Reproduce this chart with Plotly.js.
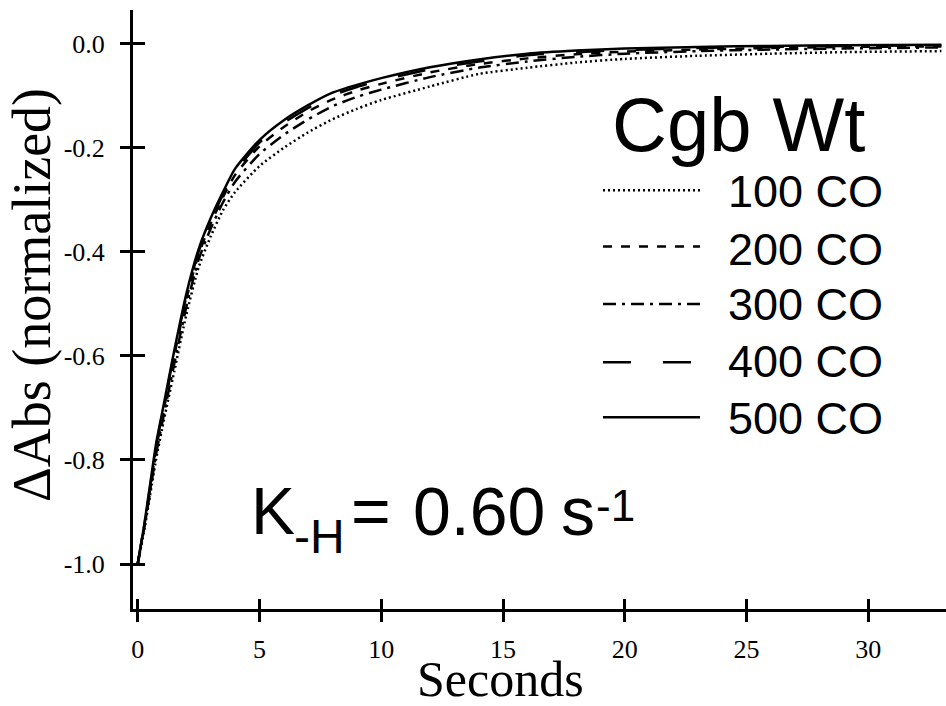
<!DOCTYPE html>
<html>
<head>
<meta charset="utf-8">
<script src="https://cdn.plot.ly/plotly-3.0.1.min.js"></script>
<style>html,body{margin:0;padding:0;background:#fff;}#chart{width:946px;height:706px;}</style>
</head>
<body>
<div id="chart"></div>
<script>
// time grid (seconds)
const time = [0, 0.25, 0.5, 0.75, 1, 1.5, 2, 2.5, 3, 3.5, 4, 5, 6, 7, 8, 9, 10, 12, 14, 16, 18, 20, 23, 26, 29, 33];
// series (normalized ΔAbs)
const co100 = [-1.00, -0.94, -0.87, -0.80, -0.74, -0.63, -0.52, -0.43, -0.37, -0.32, -0.285, -0.235, -0.20, -0.17, -0.145, -0.125, -0.108, -0.082, -0.058, -0.046, -0.036, -0.029, -0.023, -0.019, -0.016, -0.014];
const co200 = [-1.00, -0.932, -0.86, -0.78, -0.72, -0.60, -0.49, -0.405, -0.345, -0.295, -0.252, -0.197, -0.16, -0.13, -0.107, -0.09, -0.077, -0.055, -0.039, -0.028, -0.020, -0.015, -0.011, -0.008, -0.006, -0.005];
const co300 = [-1.00, -0.935, -0.865, -0.79, -0.73, -0.615, -0.505, -0.415, -0.355, -0.305, -0.265, -0.212, -0.175, -0.145, -0.12, -0.102, -0.088, -0.064, -0.046, -0.034, -0.025, -0.019, -0.014, -0.011, -0.009, -0.007];
const co400 = [-1.00, -0.93, -0.855, -0.775, -0.715, -0.595, -0.485, -0.40, -0.34, -0.29, -0.246, -0.19, -0.152, -0.123, -0.099, -0.083, -0.070, -0.049, -0.034, -0.022, -0.016, -0.012, -0.008, -0.006, -0.004, -0.003];
const co500 = [-1.00, -0.93, -0.85, -0.77, -0.71, -0.59, -0.48, -0.395, -0.335, -0.285, -0.24, -0.185, -0.147, -0.118, -0.094, -0.079, -0.066, -0.045, -0.030, -0.019, -0.013, -0.009, -0.006, -0.004, -0.003, -0.002];
const seriesNames = ['100 CO', '200 CO', '300 CO', '400 CO', '500 CO'];
const xTickVals = [0, 5, 10, 15, 20, 25, 30];
const xTickText = ['0', '5', '10', '15', '20', '25', '30'];
const yTickVals = [0, -0.2, -0.4, -0.6, -0.8, -1.0];
const yTickText = ['0.0', '-0.2', '-0.4', '-0.6', '-0.8', '-1.0'];

const seriesData = [co100, co200, co300, co400, co500];
const dashes = ['2px,3px', '9px,9px', '13px,6px,3px,6px', '28px,32px', 'solid'];
const legendY = [0.699, 0.605, 0.509, 0.412, 0.320];
const legendTextY = [0.6962, 0.6010, 0.5090, 0.4140, 0.3180];

const traces = seriesData.map((ys, i) => ({
  x: time, y: ys, type: 'scatter', mode: 'lines', name: seriesNames[i],
  line: {color: '#000', width: 2.5, dash: dashes[i], shape: 'spline', smoothing: 0.6},
  showlegend: false, hoverinfo: 'skip'
}));
// empty trace to carry the inner-tick overlay axes
traces.push({x: [], y: [], xaxis: 'x2', yaxis: 'y2', type: 'scatter', mode: 'lines', showlegend: false});

const serif = 'Liberation Serif, Times New Roman, serif';
const sans = 'Liberation Sans, Arial, sans-serif';
const xr = [-0.193, 33.19];
const yr = [-1.0865, 0.065];
const px = v => (v - 133) / 813;
const py = v => (609 - v) / 599;
const note = (text, x, y, size, family, extra) => Object.assign({
  text: text, xref: 'paper', yref: 'paper', x: px(x), y: py(y), xanchor: 'left', yanchor: 'middle',
  showarrow: false, font: {family: family, size: size, color: '#000'}
}, extra || {});

const annotations = [
  note('Seconds', 500, 679, 50, serif, {xanchor: 'center'}),
  note('ΔAbs (normalized)', 32, 295, 54, serif, {xanchor: 'center', textangle: -90}),
  note('Cgb Wt', 738, 124, 76, sans, {xanchor: 'center'}),
  note('K', 249, 511, 66, sans),
  note('-H', 292, 536, 48, sans),
  note('=', 349, 511, 68, sans),
  note('0.60', 411, 511, 68, sans),
  note('s', 559, 511, 68, sans),
  note('-1', 594, 505, 44, sans)
];
seriesNames.forEach((n, i) => annotations.push({
  text: n, xref: 'paper', yref: 'paper', x: px(726), y: legendTextY[i], xanchor: 'left', yanchor: 'middle', showarrow: false,
  font: {family: sans, size: 45, color: '#000'}
}));

const shapes = seriesNames.map((n, i) => ({
  type: 'line', xref: 'paper', yref: 'paper', x0: px(603), x1: px(700), y0: legendY[i], y1: legendY[i],
  line: {color: '#000', width: 2.5, dash: dashes[i]}
}));

const axisCommon = {showgrid: false, zeroline: false, tickcolor: '#000', tickwidth: 3, ticklen: 10};

const layout = {
  width: 946, height: 706,
  margin: {l: 133, r: 0, t: 10, b: 97},
  paper_bgcolor: '#fff', plot_bgcolor: '#fff',
  showlegend: false,
  xaxis: Object.assign({}, axisCommon, {
    range: xr, tickmode: 'array', tickvals: xTickVals, ticktext: xTickText, ticks: 'outside',
    showline: true, linecolor: '#000', linewidth: 3, ticklabelstandoff: 5,
    tickfont: {family: serif, size: 26, color: '#000'}
  }),
  yaxis: Object.assign({}, axisCommon, {
    range: yr, tickmode: 'array', tickvals: yTickVals, ticktext: yTickText, ticks: 'outside',
    showline: true, linecolor: '#000', linewidth: 3, ticklabelstandoff: 10,
    tickfont: {family: serif, size: 26, color: '#000'}
  }),
  xaxis2: Object.assign({}, axisCommon, {
    range: xr, overlaying: 'x', anchor: 'y2', tickmode: 'array', tickvals: xTickVals, ticks: 'inside',
    showticklabels: false, showline: false, side: 'bottom'
  }),
  yaxis2: Object.assign({}, axisCommon, {
    range: yr, overlaying: 'y', anchor: 'x2', tickmode: 'array', tickvals: yTickVals, ticks: 'inside', ticklen: 12,
    showticklabels: false, showline: false, side: 'left'
  }),
  annotations: annotations,
  shapes: shapes
};

Plotly.newPlot('chart', traces, layout, {staticPlot: true, displayModeBar: false});
</script>
</body>
</html>
